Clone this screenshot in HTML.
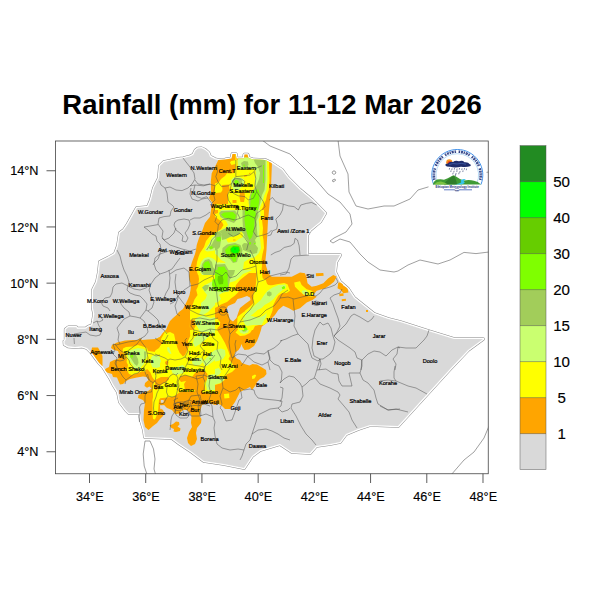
<!DOCTYPE html><html><head><meta charset="utf-8"><title>Rainfall</title>
<style>html,body{margin:0;padding:0;background:#fff}svg{display:block}text{font-family:"Liberation Sans",sans-serif}</style></head><body>
<svg width="600" height="600" viewBox="0 0 600 600">
<rect width="600" height="600" fill="#fff"/>
<defs><clipPath id="eth"><path d="M164 162 L170 160.8 L176.7 159.2 L183.3 158.3 L190 156.5 L193.3 155 L195.5 150.5 L198 148.5 L201.5 148.3 L205 150 L208.3 152.8 L210 156.7 L215 159.2 L218.3 160 L225 159.5 L231.5 158.5 L232.5 154 L235.8 154 L236.5 158.5 L243.8 158.5 L244.5 154.5 L247.5 154.5 L248.5 158 L253 159.5 L265 160 L270.5 162.5 L282 170 L288 178 L300 190 L312 200 L325 213.3 L320 221.7 L310 230 L307 235 L306.8 255 L340 255 L336 262 L335 272 L340 282 L348 289 L354 298 L364 306 L374 314 L388 319 L400 322 L428 331 L454 339 L483 339 L468 350 L450 369 L398 426 L370 425 L358 429 L346 434 L340 442 L330 444 L316 446 L310 453 L292 452 L280 444 L260 450 L252 456 L244 468 L224 464 L204 461 L192 452 L180 444 L172 438 L145 437 L144 430 L141 420 L140 413 L129 413 L126 410 L120 402 L118 392 L113 384 L110 378 L105.7 371 L103 366.7 L99 362.7 L95 357.3 L91 352 L87 348 L81.7 346.3 L75 347 L68.3 346.3 L64.7 344.3 L64.5 341.3 L65.7 340 L65.7 329.5 L68.3 327.3 L76.3 327.3 L77 328.7 L85.7 328.7 L88.3 326.7 L92.3 325.3 L93 322 L94.3 314 L93 308 L93 290 L97 282 L99 272 L100 262 L108 258 L115 254 L118 246 L120 233 L124 230 L128 224 L137 208 L148 207 L151 200 L154 188 L159 178 L160 166Z"/></clipPath><clipPath id="frame"><rect x="55.5" y="141" width="432.75" height="332.75"/></clipPath></defs>
<text x="272" y="113.5" text-anchor="middle" font-size="27.45" font-weight="bold" fill="#000">Rainfall (mm) for 11-12 Mar 2026</text>
<g clip-path="url(#frame)">
<g fill="none" stroke="#777" stroke-width="0.7">
<path d="M262 140 L270 146 L280 150 L290 154 L306 170 L316 180 L328 194 L340 202 L350 214 L352 224 L346 232 L334 238 L330 241 L333 243 L340 239 L350 242 L360 254 L368 262 L380 270 L394 272 L398 271 L408 265 L420 260 L438 264 L450 260 L464 252.4 L476 253.6 L489 252"/>
<path d="M338 140 L340 156 L348 174 L349 192 L356 206 L368 209 L384 206 L394 206 L410 199 L418 190 L428 187 L440 183 L460 176 L489 172"/>
<path d="M489 426 L484 438 L474 452 L464 460 L451 475"/>
<path d="M333 171 L335 171 L336 173 L334 174.5 L332 173Z"/>
<path d="M332.5 180 L335 179 L335.5 180.5 L333 182Z"/>
<path d="M145 441 L150 441 L153.5 449 L155 459 L154 469 L156 476 L147.5 476 L144.2 466 L143.2 454Z"/>
</g>
<path d="M164 162 L170 160.8 L176.7 159.2 L183.3 158.3 L190 156.5 L193.3 155 L195.5 150.5 L198 148.5 L201.5 148.3 L205 150 L208.3 152.8 L210 156.7 L215 159.2 L218.3 160 L225 159.5 L231.5 158.5 L232.5 154 L235.8 154 L236.5 158.5 L243.8 158.5 L244.5 154.5 L247.5 154.5 L248.5 158 L253 159.5 L265 160 L270.5 162.5 L282 170 L288 178 L300 190 L312 200 L325 213.3 L320 221.7 L310 230 L307 235 L306.8 255 L340 255 L336 262 L335 272 L340 282 L348 289 L354 298 L364 306 L374 314 L388 319 L400 322 L428 331 L454 339 L483 339 L468 350 L450 369 L398 426 L370 425 L358 429 L346 434 L340 442 L330 444 L316 446 L310 453 L292 452 L280 444 L260 450 L252 456 L244 468 L224 464 L204 461 L192 452 L180 444 L172 438 L145 437 L144 430 L141 420 L140 413 L129 413 L126 410 L120 402 L118 392 L113 384 L110 378 L105.7 371 L103 366.7 L99 362.7 L95 357.3 L91 352 L87 348 L81.7 346.3 L75 347 L68.3 346.3 L64.7 344.3 L64.5 341.3 L65.7 340 L65.7 329.5 L68.3 327.3 L76.3 327.3 L77 328.7 L85.7 328.7 L88.3 326.7 L92.3 325.3 L93 322 L94.3 314 L93 308 L93 290 L97 282 L99 272 L100 262 L108 258 L115 254 L118 246 L120 233 L124 230 L128 224 L137 208 L148 207 L151 200 L154 188 L159 178 L160 166Z" fill="none" stroke="#8a8a8a" stroke-width="3.7" stroke-linejoin="round"/>
<path d="M164 162 L170 160.8 L176.7 159.2 L183.3 158.3 L190 156.5 L193.3 155 L195.5 150.5 L198 148.5 L201.5 148.3 L205 150 L208.3 152.8 L210 156.7 L215 159.2 L218.3 160 L225 159.5 L231.5 158.5 L232.5 154 L235.8 154 L236.5 158.5 L243.8 158.5 L244.5 154.5 L247.5 154.5 L248.5 158 L253 159.5 L265 160 L270.5 162.5 L282 170 L288 178 L300 190 L312 200 L325 213.3 L320 221.7 L310 230 L307 235 L306.8 255 L340 255 L336 262 L335 272 L340 282 L348 289 L354 298 L364 306 L374 314 L388 319 L400 322 L428 331 L454 339 L483 339 L468 350 L450 369 L398 426 L370 425 L358 429 L346 434 L340 442 L330 444 L316 446 L310 453 L292 452 L280 444 L260 450 L252 456 L244 468 L224 464 L204 461 L192 452 L180 444 L172 438 L145 437 L144 430 L141 420 L140 413 L129 413 L126 410 L120 402 L118 392 L113 384 L110 378 L105.7 371 L103 366.7 L99 362.7 L95 357.3 L91 352 L87 348 L81.7 346.3 L75 347 L68.3 346.3 L64.7 344.3 L64.5 341.3 L65.7 340 L65.7 329.5 L68.3 327.3 L76.3 327.3 L77 328.7 L85.7 328.7 L88.3 326.7 L92.3 325.3 L93 322 L94.3 314 L93 308 L93 290 L97 282 L99 272 L100 262 L108 258 L115 254 L118 246 L120 233 L124 230 L128 224 L137 208 L148 207 L151 200 L154 188 L159 178 L160 166Z" fill="none" stroke="#fff" stroke-width="2.7" stroke-linejoin="round"/>
<path d="M164 162 L170 160.8 L176.7 159.2 L183.3 158.3 L190 156.5 L193.3 155 L195.5 150.5 L198 148.5 L201.5 148.3 L205 150 L208.3 152.8 L210 156.7 L215 159.2 L218.3 160 L225 159.5 L231.5 158.5 L232.5 154 L235.8 154 L236.5 158.5 L243.8 158.5 L244.5 154.5 L247.5 154.5 L248.5 158 L253 159.5 L265 160 L270.5 162.5 L282 170 L288 178 L300 190 L312 200 L325 213.3 L320 221.7 L310 230 L307 235 L306.8 255 L340 255 L336 262 L335 272 L340 282 L348 289 L354 298 L364 306 L374 314 L388 319 L400 322 L428 331 L454 339 L483 339 L468 350 L450 369 L398 426 L370 425 L358 429 L346 434 L340 442 L330 444 L316 446 L310 453 L292 452 L280 444 L260 450 L252 456 L244 468 L224 464 L204 461 L192 452 L180 444 L172 438 L145 437 L144 430 L141 420 L140 413 L129 413 L126 410 L120 402 L118 392 L113 384 L110 378 L105.7 371 L103 366.7 L99 362.7 L95 357.3 L91 352 L87 348 L81.7 346.3 L75 347 L68.3 346.3 L64.7 344.3 L64.5 341.3 L65.7 340 L65.7 329.5 L68.3 327.3 L76.3 327.3 L77 328.7 L85.7 328.7 L88.3 326.7 L92.3 325.3 L93 322 L94.3 314 L93 308 L93 290 L97 282 L99 272 L100 262 L108 258 L115 254 L118 246 L120 233 L124 230 L128 224 L137 208 L148 207 L151 200 L154 188 L159 178 L160 166Z" fill="#d9d9d9" stroke="none"/>
<g clip-path="url(#eth)">
<clipPath id="orc"><path d="M218 150 L218.3 160 L215 166.7 L211.7 173.3 L210.8 181.7 L211 193 L209 198 L212.5 203 L211 210 L210 216.7 L205 223 L202.5 230 L199 238 L196.7 245 L196 250 L195 254 L192 262 L189.5 270 L189 276 L189.5 280 L191 285 L190.5 290 L189.5 295 L188 299 L186 303 L183 309 L179 312 L176.5 315 L173 318 L170 321 L168 325 L166 330 L163 333 L160 337 L156 339 L148 339.5 L142 340 L140 338 L138 340 L133 340 L125 340.5 L117 342.5 L112 345 L111 348 L114 350 L118 351 L119 354 L120 356 L118 359 L114 360 L110 362 L109 367 L106 368.5 L104.5 370 L107 372.5 L112 374 L113 377 L117 377.5 L118 380 L120 384.5 L123 384 L126 381 L130 379 L137 377.5 L143 376.5 L146.5 377 L148.5 380 L145 383 L144.5 386 L147 387.8 L149.5 386.5 L151.5 388.5 L148 391 L143 393 L138.5 395 L138 398 L143 400 L145 403 L144 410 L143.5 420 L145 427 L148.5 430 L153 426 L157 423 L160 419 L163 416 L164.5 413 L163 410 L160 408 L161 406 L164 405 L167 408 L172 410 L175 414 L176 414 L179 413.5 L183 410 L187 410 L190 413 L191.5 416 L191 423 L192 427 L189 432 L187 438 L188 443 L191 446 L195 444 L197 439 L196 433 L197 428 L201 423 L201.5 419 L199.5 416 L200.5 410 L202 405 L209 403 L215 405 L218 404 L221 405 L225 409 L230 409 L235 402 L237 398 L240 392 L244 390 L250 387 L252 390 L255 386 L257 382 L260 379 L264 377 L266.5 374 L266 370 L262 367.5 L257 364.5 L252.5 364 L249.5 365.5 L246 364.5 L242 363 L240 360 L236.5 358.5 L234.5 356 L235 352.5 L238.5 350 L240.5 347 L241.5 344 L242.5 347 L244.5 350 L249 349.5 L254 346 L257 341 L259 336 L261 330 L261.7 326.7 L268.3 321.7 L275 315 L278.3 310 L283.3 305.8 L289 308.3 L293.3 310.8 L300 308.3 L306.7 302.5 L312.5 300 L316.7 296.7 L313.3 295 L316.7 290.8 L325 288.3 L330 285 L334 281.7 L336.7 276.7 L333.3 275 L328.3 278.3 L323.3 283.3 L316.7 285.8 L311.7 286.7 L307.5 283.3 L306.7 278.3 L305 273.3 L300 272.5 L291.7 276.7 L283.3 276.7 L271.7 276.7 L268.3 273.3 L265.8 265 L265.5 260 L266.5 250 L267 240 L267.5 230 L268 220 L269 210 L270 200 L271 190 L271.3 180 L272 162 L266 159 L250 150Z"/><path d="M92 347.5 L98 347.5 L100 351 L102.5 356 L102.5 366 L97.5 366 L96.7 361 L94 356 L91 352.5Z"/><path d="M169.5 425.5 L173 424 L176 421.5 L179 422 L179.5 424.5 L177.5 426.5 L180.5 428.5 L180 431 L176 432 L173.5 431.5 L174 429 L171.5 428Z"/><path d="M315.83 273.33 L323.33 273 L323.67 275.83 L316.17 276.17Z"/><path d="M338.33 282.5 L342.5 282.5 L343.33 285.83 L347.5 287.5 L348.33 292.5 L343.33 293.33 L340.83 290 L337.5 288.33Z"/><path d="M339.17 293.67 L343.33 293.33 L343.67 295.83 L339.5 296.17Z"/><path d="M341.67 299.17 L345.83 298.83 L346 300.83 L341.83 301.17Z"/><path d="M366 310 L368 310 L368 312 L366 312Z"/></clipPath>
<path d="M218 150 L218.3 160 L215 166.7 L211.7 173.3 L210.8 181.7 L211 193 L209 198 L212.5 203 L211 210 L210 216.7 L205 223 L202.5 230 L199 238 L196.7 245 L196 250 L195 254 L192 262 L189.5 270 L189 276 L189.5 280 L191 285 L190.5 290 L189.5 295 L188 299 L186 303 L183 309 L179 312 L176.5 315 L173 318 L170 321 L168 325 L166 330 L163 333 L160 337 L156 339 L148 339.5 L142 340 L140 338 L138 340 L133 340 L125 340.5 L117 342.5 L112 345 L111 348 L114 350 L118 351 L119 354 L120 356 L118 359 L114 360 L110 362 L109 367 L106 368.5 L104.5 370 L107 372.5 L112 374 L113 377 L117 377.5 L118 380 L120 384.5 L123 384 L126 381 L130 379 L137 377.5 L143 376.5 L146.5 377 L148.5 380 L145 383 L144.5 386 L147 387.8 L149.5 386.5 L151.5 388.5 L148 391 L143 393 L138.5 395 L138 398 L143 400 L145 403 L144 410 L143.5 420 L145 427 L148.5 430 L153 426 L157 423 L160 419 L163 416 L164.5 413 L163 410 L160 408 L161 406 L164 405 L167 408 L172 410 L175 414 L176 414 L179 413.5 L183 410 L187 410 L190 413 L191.5 416 L191 423 L192 427 L189 432 L187 438 L188 443 L191 446 L195 444 L197 439 L196 433 L197 428 L201 423 L201.5 419 L199.5 416 L200.5 410 L202 405 L209 403 L215 405 L218 404 L221 405 L225 409 L230 409 L235 402 L237 398 L240 392 L244 390 L250 387 L252 390 L255 386 L257 382 L260 379 L264 377 L266.5 374 L266 370 L262 367.5 L257 364.5 L252.5 364 L249.5 365.5 L246 364.5 L242 363 L240 360 L236.5 358.5 L234.5 356 L235 352.5 L238.5 350 L240.5 347 L241.5 344 L242.5 347 L244.5 350 L249 349.5 L254 346 L257 341 L259 336 L261 330 L261.7 326.7 L268.3 321.7 L275 315 L278.3 310 L283.3 305.8 L289 308.3 L293.3 310.8 L300 308.3 L306.7 302.5 L312.5 300 L316.7 296.7 L313.3 295 L316.7 290.8 L325 288.3 L330 285 L334 281.7 L336.7 276.7 L333.3 275 L328.3 278.3 L323.3 283.3 L316.7 285.8 L311.7 286.7 L307.5 283.3 L306.7 278.3 L305 273.3 L300 272.5 L291.7 276.7 L283.3 276.7 L271.7 276.7 L268.3 273.3 L265.8 265 L265.5 260 L266.5 250 L267 240 L267.5 230 L268 220 L269 210 L270 200 L271 190 L271.3 180 L272 162 L266 159 L250 150Z" fill="#ffa500"/>
<path d="M92 347.5 L98 347.5 L100 351 L102.5 356 L102.5 366 L97.5 366 L96.7 361 L94 356 L91 352.5Z" fill="#ffa500"/>
<path d="M169.5 425.5 L173 424 L176 421.5 L179 422 L179.5 424.5 L177.5 426.5 L180.5 428.5 L180 431 L176 432 L173.5 431.5 L174 429 L171.5 428Z" fill="#ffa500"/>
<path d="M315.83 273.33 L323.33 273 L323.67 275.83 L316.17 276.17Z" fill="#ffa500"/>
<path d="M338.33 282.5 L342.5 282.5 L343.33 285.83 L347.5 287.5 L348.33 292.5 L343.33 293.33 L340.83 290 L337.5 288.33Z" fill="#ffa500"/>
<path d="M339.17 293.67 L343.33 293.33 L343.67 295.83 L339.5 296.17Z" fill="#ffa500"/>
<path d="M341.67 299.17 L345.83 298.83 L346 300.83 L341.83 301.17Z" fill="#ffa500"/>
<path d="M366 310 L368 310 L368 312 L366 312Z" fill="#ffa500"/>
<g clip-path="url(#orc)">
<path d="M235.5 150 L236.3 156 L236.5 159.5 L237.5 160 L238 169 L255 169 L256 173 L255 179 L254.5 190 L251 192 L249.5 197 L248.5 202 L250 210 L215 210 L215 183.5 L219 182 L221 179 L225 176 L227 173.2 L231 173.6 L235 172.5 L235.5 164 L231.5 165 L230 162.7 L231 161 L235.5 160.2Z" fill="#ffff00"/>
<path d="M262 156 L267 160.8 L269 161.8 L269.5 180 L268.8 190 L267 195 L266 200 L264 204 L261.8 210 L258 210 L259 160Z" fill="#ffff00"/>
<path d="M218 210 L264 210 L264 216 L262 220 L263 228 L262.5 235 L263.5 240 L264 248 L262.5 254 L261.5 260 L262 266 L261.5 270 L215 270 L215 233 L217 232 L221 229 L223.5 225 L222 222 L218 219 L215 216 L215 214 L218 213Z" fill="#ffff00"/>
<path d="M215 270 L257 270 L256 273 L249 273 L245 276 L240 280 L236 285 L234.5 290 L239 291.5 L235 295.5 L231 298.5 L227 302 L221 304.5 L217 307 L215 308Z" fill="#ffff00"/>
<path d="M257 270 L262 270 L262 274 L263 280 L268 285 L275 286 L275 301 L272.5 303 L272 310 L271 314 L267 320 L263 324 L255 326 L253 330 L238 330 L237 326 L237.5 317 L241 314 L248 309 L254 303 L253 299 L255 291 L256 283Z" fill="#ffff00"/>
<path d="M215 322 L219 322 L219.5 326 L215 326.5Z" fill="#ffff00"/>
<path d="M197.5 270 L215 270 L215 330 L190.5 330 L189.5 326 L190 320 L190 310 L193 303.5 L194.5 299.5 L197.5 295 L196.2 290 L198.2 286 L199 279Z" fill="#ffff00"/>
<path d="M155 330 L215 330 L215 390 L155 390Z" fill="#ffff00"/>
<path d="M215 330 L217 330 L221 336 L225 343 L228 350 L230 356 L228.5 359 L232 363 L235.5 368.5 L232 372 L226.5 374.5 L224.5 380 L220.5 383.5 L215 385Z" fill="#ffff00"/>
<path d="M235.5 332.5 L237.5 330 L252 330 L250 333 L245 335.5 L240 336Z" fill="#ffff00"/>
<path d="M252 376 L255 374.5 L256.2 375.5 L254.5 378.5 L252.2 379Z" fill="#ffff00"/>
<path d="M224 394 L229 393.6 L229.4 398 L224.4 398.4Z" fill="#ffff00"/>
<path d="M155 390 L195 390 L194 391.5 L180 392 L176 395 L173 397 L167 396 L161 397 L159 400 L157.5 405 L156 410 L155 417Z" fill="#ffff00"/>
<path d="M202 390 L215 390 L215 393 L209 393.5 L203 393Z" fill="#ffff00"/>
<path d="M123 348.5 L126 347 L133 346.5 L138 345 L143 346.5 L147 348 L148 351 L152 351.5 L156 352 L158 349 L160 347 L160 383 L156 380 L152 378 L148 375 L146 372 L142 371 L138 373 L132 375 L129 374 L127 370 L128 365 L126.5 362 L127 359 L125 355 L122.5 351.5Z" fill="#ffff00"/>
<path d="M152.5 383 L155 381 L160 380 L165 378 L169 378 L168 381 L163 384 L160 388 L159 394 L161 396 L159 399 L157.5 404 L157 410 L156.5 416 L155 419.5 L153 419 L152.5 414 L153 408 L152.5 400 L153.5 395 L152.5 390Z" fill="#ffff00"/>
<path d="M294.17 282.5 L300 281.33 L301.67 285 L306.67 289.17 L311.67 290.83 L314.17 293.33 L312.5 296.67 L305 295.83 L300 291.67 L295 286.67Z" fill="#ffff00"/>
<path d="M220 230 L216 232 L210 236 L206 241 L204 247 L200 253 L198.5 257 L197 262 L196 269 L198 275 L220 275Z" fill="#ffff00"/>
<path d="M215 215 L220 215 L220 217.5 L216 218Z" fill="#ffff00"/>
<path d="M256.67 283.33 L262.5 278.33 L265.83 280 L267.08 284.17 L270 285.83 L276.67 284.17 L284.17 282.92 L287.5 284.17 L290 290.83 L286.67 292.92 L281.67 293.33 L278.33 295.83 L275.83 300 L273.33 305 L272.5 310.83 L270 316.67 L268.33 321.67 L267.5 325 L245 325 L245 310.83 L250 306.67 L253.33 303.33 L254.17 299.17 L253.33 294.17 L255 290Z" fill="#ffff00"/>
<path d="M147.5 365 L185 365 L185 375.42 L181.67 376.25 L178.33 375.83 L177.08 378.33 L178.33 381.67 L185 382.5 L185 390 L178.33 391.67 L175 392.5 L174.17 396.67 L160 398.33 L157.92 396.67 L157.5 389.17 L158.33 386.67 L161.67 384.17 L165.83 381.67 L169.17 379.17 L168.33 376.67 L164.17 377.5 L160 380 L156.67 381.67 L154.17 380 L152.08 376.67 L150.42 372.5 L147.5 369.17Z" fill="#ffff00"/>
<path d="M152.5 384.17 L155 381.67 L158.33 386.67 L157.5 389.17 L157.92 396.67 L158.75 402.5 L158.33 408.33 L157.5 415 L152.92 415 L152.5 406.67 L152.92 398.33 L153.17 390Z" fill="#ffff00"/>
<path d="M135 365 L147.5 365 L147.5 369.17 L145 370 L140 372.08 L135 374.17Z" fill="#ffff00"/>
<path d="M214.42 317.5 L217.34 318.67 L220.25 322.17 L219.67 325.67 L217.34 328 L217.92 333.84 L220.84 338.5 L224.34 343.17 L215 343.17 L214.42 330.33Z" fill="#ffff00"/>
<path d="M222 185 L229 184.5 L229.5 190 L228 192.5 L228 204 L221 204.5 L215 204 L215 193 L221 192.5 L222.5 190Z" fill="#ffa500"/>
<path d="M240 192.5 L244.5 192 L245 197 L244 202 L240.5 202 L239.5 197Z" fill="#ffa500"/>
<path d="M232.5 200 L236.5 200 L236.5 203 L232.5 203Z" fill="#ffa500"/>
<path d="M244 175.5 L247 175 L247.2 176.2 L244.2 176.7Z" fill="#ffa500"/>
<path d="M249 173 L250.5 172.8 L250.6 173.8 L249.1 174Z" fill="#ffa500"/>
<path d="M189 320 L195 319.5 L195.5 326 L193.5 330 L189.5 330Z" fill="#ffa500"/>
<path d="M155 336 L160 335 L161.5 333 L165 330 L166 330 L161 339 L162 343 L159 348 L156 350 L155 351Z" fill="#ffa500"/>
<path d="M165 330 L190 330 L190.2 336 L188 341 L189 346 L187 351 L185 355 L183 356.5 L179.5 352.5 L177.5 348 L175.5 341 L174 334 L170 332 L167 333Z" fill="#ffa500"/>
<path d="M165 362 L167 360.5 L168.5 362 L168 365 L165.5 364.5Z" fill="#ffa500"/>
<path d="M180 377 L185 375 L192 377 L195 373 L199 371 L205 371 L207.5 374 L207 380 L204 383 L205 390 L185 390 L184 384 L186 381 L181 382 L179 379Z" fill="#ffa500"/>
<path d="M155 380 L161 377 L167 377 L168.5 379 L165 382 L160 385 L157 390 L155 390Z" fill="#ffa500"/>
<path d="M145 370 L147.5 369.17 L150.42 372.5 L152.08 376.67 L154.17 380 L156.67 381.67 L160 380 L164.17 377.5 L168.33 376.67 L169.17 379.17 L165.83 381.67 L161.67 384.17 L158.33 386.67 L155 381.67 L152.5 384.17 L149.17 380 L146.67 375Z" fill="#ffa500"/>
<path d="M237.5 160 L239 157.5 L244 157.5 L245 157.2 L248 157.4 L253 156 L265 156 L267 161 L267.5 180 L266.5 190 L264 196 L263 200 L260.5 206 L259.2 210 L250 210 L248.5 202 L249.5 197 L251 192 L254.5 190 L255 179 L256 173 L255 169 L238 169Z" fill="#caff70"/>
<path d="M231 180 L233.5 177.5 L240 177.2 L244 179.5 L244 184 L241.5 187 L239 190 L234 190 L231.5 186Z" fill="#caff70"/>
<path d="M221 210 L260 210 L260.5 216 L258.7 220 L259.7 228 L259.2 235 L260.2 240 L261 248 L259 253 L255 257 L249 259 L244 262 L243 270 L228 270 L225 262 L221 260 L217 255 L215 254 L215 234 L219 231 L225 228 L228 225 L226 221 L221 218 L219 214Z" fill="#caff70"/>
<path d="M215 262.5 L227 263 L228.5 270 L215 270Z" fill="#caff70"/>
<path d="M215 270 L252 270 L248 272 L243 274 L239 278 L235 281 L230 282.5 L228 286 L228.5 291.5 L223 292.5 L219 295 L221 299 L218 302 L215 303Z" fill="#caff70"/>
<path d="M243 318 L249 315 L255 317 L260 318 L259 322 L253 325 L247 326 L244 323Z" fill="#caff70"/>
<path d="M200.5 270 L215 270 L215 272 L211 272.5 L205 271.5Z" fill="#caff70"/>
<path d="M215 281 L212 281.5 L205 285 L202 287.5 L204 291 L207 295 L205.5 299 L201 303 L201 310 L199 314 L203 315 L208 312 L212 308 L215 305Z" fill="#caff70"/>
<path d="M195 319.5 L198 317 L203 315.5 L207 317 L211 318 L215 317 L215 330 L199 330 L197 326 L194.5 323Z" fill="#caff70"/>
<path d="M194 338 L198 335 L205 333 L209 336 L205 340 L200 344 L195 347 L193 343Z" fill="#caff70"/>
<path d="M198 330 L215 330 L215 333 L207 332.5 L201 332Z" fill="#caff70"/>
<path d="M155 356 L159 357 L161 361 L159 366 L155 368Z" fill="#caff70"/>
<path d="M167 347.5 L169 347 L170 350 L171.5 353.5 L170 354 L167.5 351Z" fill="#caff70"/>
<path d="M173 368 L183 365 L185 368 L183 373 L177 375 L173.5 373Z" fill="#caff70"/>
<path d="M192 361 L197 358 L202 358 L203 362 L200 365 L195 365.5 L192.5 364Z" fill="#caff70"/>
<path d="M203 362 L207 357 L211 353 L215 350 L215 360 L211 363 L207 366 L204 365Z" fill="#caff70"/>
<path d="M208 375 L215 374 L215 390 L207 390 L206 384Z" fill="#caff70"/>
<path d="M239 330 L249 330 L248 332.5 L244 334 L240.5 333Z" fill="#caff70"/>
<path d="M215 350 L221 348.5 L225 350 L225.5 355 L223 359 L218 361 L215 361.5Z" fill="#caff70"/>
<path d="M215 369 L219 368 L221 372 L219 375 L215 376Z" fill="#caff70"/>
<path d="M215 377 L222 376.5 L224.5 379.5 L220.5 383 L215 384.5Z" fill="#caff70"/>
<path d="M128 352 L131 350 L138 348 L144 349 L146.5 352 L147 357 L144 359 L144 364 L141 367 L140 371 L135 369 L132 364 L129 360 L127.5 356Z" fill="#caff70"/>
<path d="M152 356 L156 355 L160 357 L160 367 L156 368 L152 366 L150 362Z" fill="#caff70"/>
<path d="M301.67 290.83 L305.83 290 L308.33 292.5 L306.67 295 L303 294.17Z" fill="#caff70"/>
<path d="M220 231.5 L216 234.5 L212 237.5 L209.5 243 L206.5 247 L204.5 250 L207 251.5 L212 251 L216 250 L220 249Z" fill="#caff70"/>
<path d="M199.5 267 L201 262 L204 258.5 L208 257 L212 258 L215 260 L217 263 L220 262 L220 275 L202 275 L200 272Z" fill="#caff70"/>
<path d="M285.42 284.58 L278.33 285 L272.5 287.5 L267.5 290.83 L264.17 295 L260.83 300 L255.83 304.17 L251.67 308.33 L247.5 311.67 L245 314.17 L245 319.17 L249.17 316.67 L253.33 313.75 L257.5 310 L261.67 307.92 L264.58 305 L269.17 302.5 L273.33 299.17 L277.5 294.17 L281.67 290.83 L286.25 287.5Z" fill="#caff70"/>
<path d="M266.67 312.92 L263.33 315.83 L257.5 317.92 L250 320.83 L245 322.92 L245 325 L261.67 325 L264.17 320 L266.25 316.67Z" fill="#caff70"/>
<path d="M151.67 365 L160 365 L159.17 367.08 L152.5 367.5Z" fill="#caff70"/>
<path d="M170.83 368.33 L174.17 367.5 L181.67 368.33 L181.25 372.5 L176.67 375 L172.5 373.33Z" fill="#caff70"/>
<path d="M226 239 L230 237 L238 235 L241 231.5 L242.5 232.5 L243 237 L239 239 L235 242 L228 242.5Z" fill="#ffff00"/>
<path d="M252.5 156 L265.5 156 L265.5 180 L264.5 190 L262 195 L260.5 202 L258.2 210 L249.5 210 L249 202 L250 195 L252 191 L255 188 L257 184 L259 179 L260 173 L258 167 L255 163Z" fill="#a2cd5a"/>
<path d="M241 163 L244 161 L248 161.5 L248.5 165 L246 167 L242 166.5Z" fill="#a2cd5a"/>
<path d="M232.5 180.5 L234.5 178.5 L240 178.3 L242.2 180 L242 184 L239.5 186.8 L235 187 L232.8 184Z" fill="#a2cd5a"/>
<path d="M219 213 L221 211 L235 210.5 L237.5 214 L236.5 220 L234 223 L230 221.5 L225 219.5 L220.5 217Z" fill="#a2cd5a"/>
<path d="M242.5 210 L258 210 L258.5 216 L256.5 221 L257 230 L257.5 236 L255 240 L256 243 L254 245 L249 245 L247 240 L244 236 L243 228 L242.5 220Z" fill="#a2cd5a"/>
<path d="M215 233.5 L219 231.5 L222 234 L221 240 L220 247 L217 250 L215 250.5Z" fill="#a2cd5a"/>
<path d="M222.5 248 L227 244.5 L235 243 L240.5 245 L242.5 250 L241.5 255 L238 258 L237 262 L233 263 L230 259 L225 257 L222 253Z" fill="#a2cd5a"/>
<path d="M215 264.5 L225 264 L228.5 270 L215 270Z" fill="#a2cd5a"/>
<path d="M219 231.5 L225 228.5 L232 227 L244 227.5 L245 235 L241 231.5 L238 235 L230 237 L226 239 L222 240 L222 234Z" fill="#a2cd5a"/>
<path d="M244 243 L255 244 L258 248 L257 253 L253 254 L248 252 L243 250 L242 245Z" fill="#a2cd5a"/>
<path d="M215 270 L235 270 L234 274 L230 279 L229 285 L228.5 291.5 L223 292.2 L218 291.5 L215 291.5Z" fill="#a2cd5a"/>
<path d="M202 287.5 L205 285 L209 285 L208 289 L205 291.5Z" fill="#a2cd5a"/>
<path d="M241.5 330 L247 330 L246 331.5 L243 331.8Z" fill="#a2cd5a"/>
<path d="M130 354 L133 352.5 L136 355 L138 359 L138.5 363 L137 366 L134.5 364 L132 360 L130 357Z" fill="#a2cd5a"/>
<path d="M144 351.5 L146 351.5 L146.2 359 L144.2 359Z" fill="#a2cd5a"/>
<path d="M220 234.5 L217 236.5 L214 240 L212 244 L209 248 L211 249.5 L216 247 L220 245Z" fill="#a2cd5a"/>
<path d="M201 269 L202 264 L205 260 L209 259 L212 262 L213 267 L216 271 L220 269 L220 275 L204 275 L201.5 273Z" fill="#a2cd5a"/>
<path d="M266.83 292.5 L269.17 291.25 L271.5 292.5 L271.67 295 L269.58 296.5 L267.08 295.42Z" fill="#a2cd5a"/>
<path d="M243.5 164.5 L244.7 164.5 L244.7 167 L243.5 167Z" fill="#7fff00"/>
<path d="M234.5 180.5 L236.5 180 L238.5 181 L238.5 184.5 L236.5 185.2 L234.5 184Z" fill="#7fff00"/>
<path d="M252.5 192 L255 190 L258.5 189.5 L259.5 193 L259 202 L258 210 L250 210 L250.5 202 L251 196Z" fill="#7fff00"/>
<path d="M263 165 L264 165 L264 183 L263 183Z" fill="#7fff00"/>
<path d="M221 214.5 L224 212.5 L233 212 L236 215 L235 219.5 L233.5 221 L229 219 L224 217.5Z" fill="#7fff00"/>
<path d="M245 210 L255 210 L256 215 L254.5 221 L254 230 L252 237 L249.5 240 L247.5 235 L245.5 228 L244.5 220Z" fill="#7fff00"/>
<path d="M216.5 237.2 L220.8 237.2 L220.8 241.2 L216.5 241.2Z" fill="#7fff00"/>
<path d="M225 250 L229 246 L236 244.5 L239.5 246.5 L240.5 251 L239 255 L236.5 257.5 L236 261.5 L233.5 262 L231 258 L226.5 255.5Z" fill="#7fff00"/>
<path d="M249 242 L251 242 L251 244.5 L249 244.5Z" fill="#7fff00"/>
<path d="M254 243 L255.5 243 L255.5 244.2 L254 244.2Z" fill="#7fff00"/>
<path d="M218 267 L224.5 266.5 L226 270 L217.5 270Z" fill="#7fff00"/>
<path d="M215 270 L227 270 L228 274 L227.5 280 L228 286 L226 291 L221 291.5 L215 291Z" fill="#7fff00"/>
<path d="M244 328 L247 327.5 L247.5 330 L244 330Z" fill="#7fff00"/>
<path d="M212.5 279.5 L215 279 L215 291 L213.5 290 L212 285Z" fill="#7fff00"/>
<path d="M209.5 358 L211 358 L211 359.5 L209.5 359.5Z" fill="#7fff00"/>
<path d="M243 330 L245 330 L245 331 L243 331Z" fill="#7fff00"/>
<path d="M130.5 355 L133 355 L133 357.5 L130.5 357.5Z" fill="#7fff00"/>
<path d="M220 236.5 L218 237.5 L216.5 239.5 L218.5 241.5 L220 241Z" fill="#7fff00"/>
<path d="M209 247 L212 246 L213 248 L210 249.5Z" fill="#7fff00"/>
<path d="M203 265 L205 262 L208.5 261 L210 264 L210.5 269 L208 271 L204.5 270Z" fill="#7fff00"/>
<path d="M216 272 L220 271 L220 275 L215 275Z" fill="#7fff00"/>
<path d="M281.67 287.5 L283.75 286 L285.17 286.67 L284.83 288.75 L282.5 289.33Z" fill="#7fff00"/>
<path d="M230 249 L233 246 L239 246.2 L240 250.5 L238 254 L233.5 254.2 L230.5 252Z" fill="#66cd00"/>
<path d="M218 276 L222.5 275.5 L223.5 280 L223 284 L219 284.5 L217.5 280Z" fill="#66cd00"/>
<path d="M231 248.5 L233.5 246.8 L238.5 247.2 L239.3 250.5 L237.5 253 L233.5 253.2 L231.2 251.5Z" fill="#00ff00"/>
<path d="M234.5 248.5 L235.5 248.5 L235.5 249.5 L234.5 249.5Z" fill="#228b22"/>
<path d="M233 239.6 L235.5 239.4 L235.6 240.4 L233.1 240.6Z" fill="#ffa500"/>
<path d="M228 306 L235 303 L237.5 299 L241.5 298 L247 296 L250 297.5 L250.5 300 L245 304 L240 308 L238.5 312 L236.5 318 L233 321.5 L229.5 319 L228.5 314 L226 310Z" fill="#d9d9d9"/>
<path d="M155 330 L165 330 L161.5 333 L160 335 L155 336Z" fill="#d9d9d9"/>
<path d="M160 405.5 L163.5 405.5 L163.5 408.5 L160 408.5Z" fill="#d9d9d9"/>
<path d="M161 400 L163.5 400 L163.5 402.5 L161 402.5Z" fill="#d9d9d9"/>
<path d="M160.83 400 L163.33 400 L163.33 402.5 L160.83 402.5Z" fill="#d9d9d9"/>
<path d="M160 405.42 L164.17 405 L164.58 408.75 L160.42 409.17Z" fill="#d9d9d9"/>
</g></g>
<g fill="none" stroke="#4d4d4d" stroke-width="0.5" stroke-linejoin="round">
<path d="M159.6 181 L161 185 L165 188 L170 187 L176 190 L182 190.6 L188 188 L192 184 L195 179 L194 173 L190 167 L186 162 L183 158"/>
<path d="M195 180 L198 184 L204 185 L210 184"/>
<path d="M165 188 L167 193 L168 202 L172 205 L174 207 L171 211 L170 216 L164 216.6 L159 218 L158 224 L160 227 L163 231 L162 237 L164 240 L169 238 L174 233 L176 228"/>
<path d="M144 227 L150 226 L158 224.6"/>
<path d="M144 227 L148 230 L152 234 L156 236 L157 241 L160 244 L161 249 L160 254 L158 259 L154 263 L153 265"/>
<path d="M162 238 L165 241 L170 245 L176 247 L182 249 L190 251 L196 249"/>
<path d="M175 222 L178 220 L184 219 L189 220 L190 224 L188 229 L185 233 L188 238 L186 242 L182 241 L183 236 L180 233 L176 230 L174 225 L175 222"/>
<path d="M191 188 L190 194 L192 199 L198 201 L202 199 L208 198"/>
<path d="M190 220 L194 218 L200 218 L206 215 L210 212"/>
<path d="M117 250 L120 256 L122 264 L124 270 L127 276 L129 282 L128 286"/>
<path d="M128 286 L134 289 L140 290 L146 288 L151 284 L155 278 L160 274 L166 272 L172 269 L177 262 L180 258"/>
<path d="M160 274 L156 270 L154 264 L155 258 L160 254 L166 252 L172 250"/>
<path d="M128 286 L122 283 L116 284 L113 287 L112 293 L110 297 L105 298 L101 302 L103 306 L108 308 L110 311"/>
<path d="M128 286 L127 290 L130 293 L135 295 L140 296 L144 300 L147 304 L146 310 L143 314 L140 318 L136 317 L130 316 L129 312 L124 308 L121 304 L120 299"/>
<path d="M151 284 L149 290 L151 296 L154 302 L152 308 L148 311 L146 310"/>
<path d="M130 316 L124 319 L120 324 L117 328 L119 334 L118 340 L120 344"/>
<path d="M140 318 L144 321 L147 327 L148 332 L145 336 L140 339 L135 341 L128 342 L120 344 L116 345 L113 344"/>
<path d="M148 311 L154 316 L158 320 L160 327 L164 330 L167 334"/>
<path d="M169 270 L170 278 L169 288 L166 293 L164 298"/>
<path d="M176 274 L175 282 L176 290 L178 298 L175 306 L177 314 L180 316"/>
<path d="M93 323 L97 321 L99 326 L102 330 L100 335 L96 336 L90 335 L86 332 L80 333 L74 334"/>
<path d="M74 338 L74.4 344"/>
<path d="M100 316 L103 320 L99 322 L97 321"/>
<path d="M113 344 L115 350 L113 354 L117 358 L116 364 L118 370"/>
<path d="M269.17 200 L272.5 197.5 L275.83 201.67 L280 203.33 L283.33 204.17 L288.33 205.83 L294.17 206.67 L298.33 210 L300.83 205 L306.67 203.33 L311.67 202.5 L316.67 205"/>
<path d="M283.33 204.17 L282.5 210 L280 215 L275.83 219.17 L277.5 225 L276.67 229.17 L272.5 230.83 L270.83 235 L267.5 235.83"/>
<path d="M270.83 255 L275 252.5 L280 250.83 L284.17 247.5 L290.83 245.83 L294.17 243.33 L295 238.33 L297.5 240 L299.17 245.83 L300 255"/>
<path d="M280 275 L286 274 L289 268 L291 259 L294 256 L309 255"/>
<path d="M280 298 L288 297 L294 299 L302 297 L310 295 L316 296 L320 293 L323 289 L330 287 L335 285 L338 282 L336 278"/>
<path d="M313 302.4 L316 301 L319.6 302 L320 304.4 L317 305.6 L313.6 304.8 L313 302.4"/>
<path d="M293 299 L294 308 L295 316 L294 326 L298 334 L302 338 L308 344 L310 352 L312 358 L318 361 L320 359"/>
<path d="M330 298 L333 304 L335 310 L338 318 L340 326 L337 332 L334 336"/>
<path d="M330 298 L334 295 L340 293 L342 289"/>
<path d="M320 322 L323 325 L328 323 L331 328 L333 336 L335 342 L333 350 L330 354 L323 359 L320 359 L314 356 L312 348 L313 338 L315 330 L318 325 L320 322"/>
<path d="M334 336 L340 330 L346 324 L351 316 L354 314 L360 317 L368 322 L372 319 L374 316"/>
<path d="M334 336 L338 340 L344 344 L350 348 L355 352 L357 358 L362 360 L368 354 L374 351 L380 352 L386 356 L392 350 L398 347 L400 348"/>
<path d="M320 359 L321 364 L319 370"/>
<path d="M280 341 L286 339 L292 336 L298 334"/>
<path d="M362 360 L361 370"/>
<path d="M320 359 L318 366 L315 376 L314 378"/>
<path d="M361.6 360 L362 366 L360 373"/>
<path d="M317 370 L326 369 L332 373 L338 374 L339 381 L342 386 L352 386 L349 373 L360 373"/>
<path d="M360 373 L363 380 L368 383 L374 390 L376 398 L378 404 L388 410 L400 409"/>
<path d="M315 378 L320 384 L330 388 L338 392 L340 395 L338 399 L344 406 L349 412 L352 420 L357 428"/>
<path d="M315 378 L310 380 L306 384 L302 387 L303 396 L300 402 L292 404 L291 408 L296 416 L301 426 L306 434 L312 440 L316 445"/>
<path d="M280 383 L284 379 L289 376 L294 377 L300 383 L302 387"/>
<path d="M280 387 L283 388 L282 398 L280 402"/>
<path d="M429 330 L427 336 L424 340 L420 344 L416 348 L406 348 L398 347"/>
<path d="M398 347 L397 354 L393 359 L396 364 L395 370"/>
<path d="M395 366 L394 372 L394 378 L396 381"/>
<path d="M380 381 L388 380 L396 381 L408 386 L416 388 L427 394"/>
<path d="M380 406 L388 410 L396 409 L408 412"/>
<path d="M241 366 L244 362 L248 356 L256 353 L264 354 L268 351 L274 348 L279 344 L282 340"/>
<path d="M268 352 L270 360 L274 364 L279 366 L282 372 L281.4 380 L280 383"/>
<path d="M239 387 L244 390 L250 389 L254 390 L255 394 L258 398 L264 399 L274 400 L282 401 L281 406 L278 408"/>
<path d="M278 408 L270 409 L264 412 L258 415 L256 422 L254 428 L252 434 L250 440 L246 444 L244 450 L242 456 L240 460"/>
<path d="M278 408 L282 412 L288 410 L290 408"/>
<path d="M239 387 L241 392 L242 398 L239 400 L237 406 L235 412 L232 420 L226 421 L224 416 L222 410 L220 408"/>
<path d="M200 416 L206 414 L213 417 L215 422 L214 428 L215 436 L217 444 L222 448 L230 450 L238 449 L244 450"/>
<path d="M252 434 L258 430 L266 429 L272 431 L278 434 L284 438 L290 440"/>
<path d="M216.67 165 L217.5 171.67 L215.83 176.67 L218.33 182.5 L215 185.83 L210 184.17 L203.33 185.83 L195 185 L190 185.83"/>
<path d="M235.83 160 L235.83 176.67 L235 177.5 L231.67 183.33 L230 190"/>
<path d="M218.33 182.5 L221.67 186.67 L228.33 185.83 L231.67 183.33"/>
<path d="M232.5 180.83 L235.83 178.33 L241.67 179.17 L245 181.67 L243.33 185 L238.33 185.83 L233.67 184.17 L232.5 180.83"/>
<path d="M235.83 176.67 L243.33 175.83 L250 175 L254.17 171.67 L255.83 168.33 L261.67 165.83"/>
<path d="M254.17 171.67 L255.83 178.33 L255 185.83 L256.67 191.67"/>
<path d="M230 190 L233.33 193.33 L238.33 195.83 L245 196.67 L248.33 200 L253.33 198.33 L256.67 191.67"/>
<path d="M256.67 191.67 L260 196.67 L263.33 201.67 L265 206.67 L261.67 210 L256.67 213.33 L255 218.33"/>
<path d="M215 185.83 L213.33 193.33 L215 200 L211.67 203.33 L215 207.5 L213.33 213.33 L216.67 216.67 L215 221.67 L218.33 225"/>
<path d="M230 190 L227.5 195 L228.33 200 L231.67 205 L238.33 206.67 L237.5 213.33 L240 218.33 L243.33 216.67 L248.33 215 L255 218.33"/>
<path d="M218.33 225 L221.67 220 L228.33 218.33 L235 220 L240 218.33"/>
<path d="M218.33 225 L217.5 231.67 L215 236.67 L211.67 240 L210 245 L206.67 250"/>
<path d="M255 218.33 L255.83 225 L253.33 231.67 L256.67 236.67 L263.33 235 L268.33 233.33 L271.67 230"/>
<path d="M228.33 233.33 L233.33 236.67 L240 233.33 L245 238.33 L248.33 243.33 L246.67 250"/>
<path d="M195 185 L193.33 191.67 L196.67 196.67 L201.67 198.33 L206.67 196.67 L211.67 203.33"/>
<path d="M217 250 L217 260 L215 270 L213 276 L204 280 L198 284 L190 286 L184 290 L178 296 L174 302 L170 304"/>
<path d="M170 274 L176 270 L184 268 L189 272 L190 286"/>
<path d="M250 250 L254 258 L256 266 L257 276 L258 282"/>
<path d="M215 272 L222 276 L226 272 L230 278 L236 276 L242 270 L250 268 L256 266"/>
<path d="M258 282 L264 280 L270 276 L278 274 L286 272 L290 273"/>
<path d="M258 282 L256 290 L252 296 L254 304 L250 310 L244 316 L240 322"/>
<path d="M213 276 L216 286 L217 296 L218 304 L219 307"/>
<path d="M227.4 311 L226.6 313.4 L224.4 315 L221.6 315 L219.4 313.4 L218.6 311 L219.4 308.6 L221.6 307 L224.4 307 L226.6 308.6 L227.4 311"/>
<path d="M227 314 L230 320 L228 326 L230 334 L229 342 L230 350 L232 358"/>
<path d="M240 322 L236 328 L230 334"/>
<path d="M178 296 L184 304 L190 310 L198 314 L206 316 L214 314 L219 312"/>
<path d="M192 319 L200 318 L210 320 L218 318"/>
<path d="M192 319 L191 326 L194 330 L193 338 L188 344"/>
<path d="M240 322 L250 320 L260 316 L266 310 L274 306 L279 300 L282 294 L288 290"/>
<path d="M232 358 L238 354 L246 355 L254 362 L262 365 L268 362 L270 358 L268 350"/>
<path d="M268 362 L270 370"/>
<path d="M194 330 L202 332 L210 329 L218 330 L228 326"/>
<path d="M202 332 L204 340 L200 346 L205 352 L202 358 L206 364 L204 370"/>
<path d="M210 329 L213 338 L218 342 L217 350 L221 358 L220 366 L222 370"/>
<path d="M155 338 L159 341 L162 343 L166 339 L168 335"/>
<path d="M155 354 L160 356 L165 358 L168 360 L170 359 L175 360 L181 359 L185 357 L188 351 L186 346 L185 340 L187 338"/>
<path d="M168 360 L167 364 L168 368 L165 372 L161 373 L155 374"/>
<path d="M185 357 L189 360 L193 359 L197 356 L201 353 L205 350"/>
<path d="M189 360 L187 364 L185 368 L183 373 L180 377 L178 382 L179 386 L177 390"/>
<path d="M187 364 L193 365 L199 366 L204 367 L207 364 L211 360 L215 355"/>
<path d="M204 367 L205 372 L203 377 L205 382 L204 390"/>
<path d="M180 377 L185 375 L192 377 L197 379 L203 377"/>
<path d="M196 376 L198 384 L197 392 L200 400 L198 406 L200 416"/>
<path d="M196 376 L204 375 L210 378 L216 377 L222 380"/>
<path d="M210 378 L209 386 L211 394 L209 400 L212 406 L213 417"/>
<path d="M222 380 L223 388 L230 392 L236 390 L239 387"/>
<path d="M222 380 L226 374 L230 368 L232 360 L236 352 L235 344 L236 340"/>
<path d="M200 400 L194 402 L189 400 L184 402 L182 408 L176 406 L174 400 L178 398"/>
<path d="M190 402 L192 408 L190 412 L184 414 L182 408"/>
<path d="M198 406 L204 404 L210 406"/>
<path d="M223 388 L220 396 L222 404 L220 408"/>
<path d="M115 344 L118 348 L121 351 L125 353 L126 357 L124 360 L120 361 L116 360 L115 363 L117 368 L120 372 L123 377 L126 380 L125 384"/>
<path d="M125 353 L129 350 L133 347 L137 344 L140 340 L142 338"/>
<path d="M140 340 L143 344 L146 348 L147 353 L148 358 L147 363 L144 367 L145 372 L147 377 L149 380"/>
<path d="M126 357 L129 360 L130 364 L133 367 L136 370 L140 371 L144 367"/>
<path d="M126 380 L130 377 L134 374 L138 373 L140 371"/>
<path d="M147 353 L152 354 L156 356 L160 355"/>
<path d="M147.5 374 L148.5 378 L150 381 L153 382.5 L155 381 L156 376 L155 372 L156 370"/>
<path d="M153 382.5 L152.5 388 L151.5 392 L146 392.5 L145 396 L145 403 L141 404 L139.5 407 L140 413 L139 417 L139.5 422"/>
<path d="M155 381 L157 384 L160 385 L163 383 L166 382 L168 379 L170 376 L173 374 L176 375 L178 373"/>
<path d="M160 385 L159 389 L157 393 L156 397 L154 402 L153.5 408 L154 413"/>
<path d="M166 382 L167 387 L166.5 392 L168 396 L172 397 L176 396 L177 392 L178 387 L177 382 L178 378 L176 375"/>
<path d="M168 396 L166 399 L164 403 L161 404 L159 403"/>
<path d="M176 396 L175 400 L174 404 L174.5 408 L176 410 L174 413 L172 416 L171 420 L170.5 426 L170 430"/>
<path d="M174 404 L178 402 L182 404 L186 403 L189 405"/>
<path d="M174 404 L180 402 L183 407 L180 411 L175 410 L174 404"/>
<path d="M180 402 L188 402 L190 406 L187 410 L183 407"/>
<path d="M175 410 L176 415 L180 418 L187 418 L190 414 L187 410"/>
<path d="M190 406 L200 405 L201 416 L191 416 L190 414"/>
<path d="M188 402 L191 396 L200 395 L202 404 L200 405"/>
</g>
<g font-size="5.6" fill="#000" stroke="#000" stroke-width="0.22" text-anchor="middle">
<text x="176.6" y="177.4">Western</text>
<text x="150.6" y="213.6">W.Gondar</text>
<text x="183" y="211.6">Gondar</text>
<text x="139" y="256.5">Metekel</text>
<text x="162.4" y="251.5">Awi</text>
<text x="181" y="254.4">W.Gojam</text>
<text x="203.7" y="170">N.Western</text>
<text x="203.3" y="194.5">N.Gondar</text>
<text x="204.2" y="235.3">S.Gondar</text>
<text x="109.6" y="278.4">Assosa</text>
<text x="139.6" y="287.4">Kamashi</text>
<text x="97.4" y="303.2">M.Komo</text>
<text x="126" y="303.2">W.Wellega</text>
<text x="163" y="300.6">E.Wellega</text>
<text x="111" y="317.6">K.Wellega</text>
<text x="154.4" y="327.6">B.Bedele</text>
<text x="95.6" y="331">Itang</text>
<text x="131" y="333.6">Ilu</text>
<text x="73.6" y="337">Nuwer</text>
<text x="102" y="354">Agnewak</text>
<text x="169.2" y="343.9">Jimma</text>
<text x="131.8" y="354.5">Sheka</text>
<text x="147.5" y="362.8">Kefa</text>
<text x="121" y="358">Mj</text>
<text x="276.7" y="187.8">Kilbati</text>
<text x="267" y="219.7">Fanti</text>
<text x="293.3" y="232.7">Awsi /Zone 1</text>
<text x="310.2" y="278">Siti</text>
<text x="309.6" y="295.6">D.D</text>
<text x="319.3" y="305">Harari</text>
<text x="348.5" y="309.4">Fafan</text>
<text x="314.2" y="317">E.Hararge</text>
<text x="280" y="321.6">W.Hararge</text>
<text x="322" y="344.6">Erer</text>
<text x="379" y="338">Jarar</text>
<text x="293" y="362">E.Bale</text>
<text x="342.5" y="365">Nogob</text>
<text x="388" y="385">Korahe</text>
<text x="360.5" y="403">Shabelle</text>
<text x="325" y="416.5">Afder</text>
<text x="287" y="422.5">Liban</text>
<text x="430" y="362.6">Doolo</text>
<text x="261.5" y="387.4">Bale</text>
<text x="235.5" y="409.5">Guji</text>
<text x="209.5" y="441">Borena</text>
<text x="257.5" y="447.5">Daawa</text>
<text x="179.5" y="254.6">B.D</text>
<text x="227.2" y="173.2">Cent.T</text>
<text x="246.5" y="170.3">Eastern</text>
<text x="243.2" y="186.8">Mekelle</text>
<text x="241.8" y="192.8">S.Eastern</text>
<text x="224.7" y="207.8">WagHamra</text>
<text x="245.8" y="209.5">N.Tigray</text>
<text x="235.7" y="231.3">N.Wello</text>
<text x="235.7" y="256.8">South Wello</text>
<text x="258.3" y="264.2">Oromia</text>
<text x="265" y="273.5">Hari</text>
<text x="233" y="291">NSH(OR)NSH(AM)</text>
<text x="223.2" y="313">A.A</text>
<text x="234.3" y="328">E.Shewa</text>
<text x="200" y="270.6">E.Gojam</text>
<text x="179.3" y="293.6">Horo</text>
<text x="196.8" y="308.6">W.Shewa</text>
<text x="205.2" y="325.4">SW.Shewa</text>
<text x="204" y="336.2">Guraghe</text>
<text x="187" y="346.2">Yem</text>
<text x="208.4" y="346.4">Siltie</text>
<text x="195" y="354.7">Had.</text>
<text x="208" y="355.8">Hal.</text>
<text x="194.3" y="360.5">Kem.</text>
<text x="229.6" y="368">W.Arsi</text>
<text x="249.8" y="343.2">Arsi</text>
<text x="160" y="372.5">Konta</text>
<text x="175" y="369.8">Dawuro</text>
<text x="193.7" y="372">Wolayita</text>
<text x="170.5" y="386.8">Gofa</text>
<text x="217.5" y="379">Sidama</text>
<text x="186" y="392.4">Gamo</text>
<text x="209.5" y="394">Gedeo</text>
<text x="200" y="404.2">Amaro</text>
<text x="210.8" y="404.2">W.Guji</text>
<text x="177.6" y="409.4">Ale</text>
<text x="184.6" y="407.2">Der.</text>
<text x="184" y="416">Kon</text>
<text x="195" y="411.5">Bur</text>
<text x="127.5" y="371.3">Bench Sheko</text>
<text x="133" y="393.8">Mirab Omo</text>
<text x="156.5" y="415.2">S.Omo</text>
<text x="158.5" y="389">Bas</text>
</g>
</g>
<g>
<rect x="428.5" y="146.5" width="58" height="47" fill="#fff"/>
<path d="M433.66 184.55 A25.5 25.5 0 1 1 480.94 184.55" fill="none" stroke="#2f86e6" stroke-width="0.9"/>
<path d="M437.69 183.32 A21.3 21.3 0 1 1 476.91 183.32" fill="none" stroke="#8cc3ee" stroke-width="0.6"/>
<path d="M434.41 179.87 A23.4 23.4 0 1 1 480.19 179.87" fill="none" stroke="#1c2f7a" stroke-width="2.5" stroke-dasharray="1.6 0.8 2 0.7 1.3 0.8 2.2 0.8 1.5 2.6" stroke-opacity="0.92"/>
<path d="M434.41 179.87 A23.4 23.4 0 1 1 480.19 179.87" fill="none" stroke="#fff" stroke-width="0.5" stroke-dasharray="0.6 1.1" stroke-opacity="0.7"/>
<circle cx="449.3" cy="162.3" r="3.1" fill="#f7941d"/><circle cx="449.5" cy="162.8" r="1.9" fill="#ef3e23"/>
<path d="M445.5 165.5 Q445 163.5 448 163.6 Q449.5 161.2 453 162 Q455.5 159.8 459 161.2 Q462.5 160 464.5 162.2 Q468.5 161.8 469.5 164 Q471.5 164.6 470.6 166 Q467 167.6 461 166.8 Q455 168 450 166.8 Q446.5 167 445.5 165.5Z" fill="#1f2d6b"/>
<path d="M449 164.5 Q453 162.8 457 164 Q461 162.6 466 164.2" fill="none" stroke="#4c6fc0" stroke-width="0.6"/>
<g stroke="#16245e" stroke-width="0.55" stroke-linecap="round"><path d="M449.5 168.35000000000002 L449.35 169.25"/><path d="M452 168.75 L451.85 169.64999999999998"/><path d="M454.5 168.35000000000002 L454.35 169.25"/><path d="M457 168.95000000000002 L456.85 169.85"/><path d="M459.5 168.35000000000002 L459.35 169.25"/><path d="M462 168.75 L461.85 169.64999999999998"/><path d="M464.5 168.35000000000002 L464.35 169.25"/><path d="M466.5 168.95000000000002 L466.35 169.85"/><path d="M451 170.75 L450.85 171.64999999999998"/><path d="M454 171.15 L453.85 172.04999999999998"/><path d="M457 170.75 L456.85 171.64999999999998"/><path d="M460 171.35000000000002 L459.85 172.25"/><path d="M463 170.75 L462.85 171.64999999999998"/><path d="M453 173.15 L452.85 174.04999999999998"/><path d="M456 173.35000000000002 L455.85 174.25"/><path d="M459 172.95000000000002 L458.85 173.85"/><path d="M455.5 174.75 L455.35 175.64999999999998"/></g>
<path d="M432.8 184.6 Q434 180.5 437 179.6 Q441 178.6 444 179.8 Q448 178.4 451 176.4 Q453.8 174.6 456 176.6 Q460 179.8 464 180.4 Q470 179.6 474 180.8 Q478 181.4 481 184.6 Z" fill="#3f9b35"/>
<path d="M446 181.5 Q450 178 453.8 175.6 Q456 178.5 457 184.6 L444 184.6Z" fill="#2f7d2a"/>
<path d="M434 184.6 Q437 181 441 181.5 Q445 182.5 448 184.6Z" fill="#7cc243"/>
<path d="M464 179 Q459.5 180.2 461 181.6 Q462.5 183 455 184.6 L460.5 184.6 Q466.5 183 464 181.4 Q463 180.4 466 179.4Z" fill="#35c4ea"/>
<text x="457.2" y="187.9" text-anchor="middle" font-size="2.75" font-weight="bold" fill="#1c2f7a" textLength="43.5" lengthAdjust="spacingAndGlyphs">Ethiopian Meteorology Institute</text>
<path d="M444 189.8 L454.2 189.8 M459.8 189.8 L472 189.8" stroke="#3a5bb8" stroke-width="0.8"/>
<ellipse cx="457" cy="189.8" rx="2.7" ry="1.3" fill="#fff" stroke="#1c2f7a" stroke-width="0.45"/>
<text x="457" y="190.5" text-anchor="middle" font-size="1.9" font-weight="bold" fill="#1c2f7a">EMI</text>
</g>
<rect x="55.5" y="141" width="432.75" height="332.75" fill="none" stroke="#444" stroke-width="0.8"/>
<g stroke="#333" stroke-width="0.8">
<line x1="46.5" x2="55.5" y1="451.75" y2="451.75"/>
<line x1="46.5" x2="55.5" y1="395.55" y2="395.55"/>
<line x1="46.5" x2="55.5" y1="339.35" y2="339.35"/>
<line x1="46.5" x2="55.5" y1="283.15" y2="283.15"/>
<line x1="46.5" x2="55.5" y1="226.95" y2="226.95"/>
<line x1="46.5" x2="55.5" y1="170.75" y2="170.75"/>
<line y1="473.75" y2="483" x1="89.5" x2="89.5"/>
<line y1="473.75" y2="483" x1="145.714" x2="145.714"/>
<line y1="473.75" y2="483" x1="201.928" x2="201.928"/>
<line y1="473.75" y2="483" x1="258.142" x2="258.142"/>
<line y1="473.75" y2="483" x1="314.356" x2="314.356"/>
<line y1="473.75" y2="483" x1="370.57" x2="370.57"/>
<line y1="473.75" y2="483" x1="426.784" x2="426.784"/>
<line y1="473.75" y2="483" x1="482.998" x2="482.998"/>
</g>
<g font-size="12.7" fill="#000" stroke="#000" stroke-width="0.15">
<text x="38.5" y="456.3" text-anchor="end">4°N</text>
<text x="38.5" y="400.1" text-anchor="end">6°N</text>
<text x="38.5" y="343.9" text-anchor="end">8°N</text>
<text x="38.5" y="287.7" text-anchor="end">10°N</text>
<text x="38.5" y="231.5" text-anchor="end">12°N</text>
<text x="38.5" y="175.3" text-anchor="end">14°N</text>
<text x="89.8" y="500.9" text-anchor="middle">34°E</text>
<text x="146.014" y="500.9" text-anchor="middle">36°E</text>
<text x="202.228" y="500.9" text-anchor="middle">38°E</text>
<text x="258.442" y="500.9" text-anchor="middle">40°E</text>
<text x="314.656" y="500.9" text-anchor="middle">42°E</text>
<text x="370.87" y="500.9" text-anchor="middle">44°E</text>
<text x="427.084" y="500.9" text-anchor="middle">46°E</text>
<text x="483.298" y="500.9" text-anchor="middle">48°E</text>
</g>
<rect x="520" y="433.6" width="26" height="36" fill="#d9d9d9"/>
<rect x="520" y="397.6" width="26" height="36" fill="#ffa500"/>
<rect x="520" y="361.6" width="26" height="36" fill="#ffff00"/>
<rect x="520" y="325.6" width="26" height="36" fill="#caff70"/>
<rect x="520" y="289.6" width="26" height="36" fill="#a2cd5a"/>
<rect x="520" y="253.6" width="26" height="36" fill="#7fff00"/>
<rect x="520" y="217.6" width="26" height="36" fill="#66cd00"/>
<rect x="520" y="181.6" width="26" height="36" fill="#00ff00"/>
<rect x="520" y="145.6" width="26" height="36" fill="#228b22"/>
<line x1="520" x2="546" y1="433.6" y2="433.6" stroke="#000" stroke-opacity="0.55" stroke-width="0.6"/>
<line x1="520" x2="546" y1="397.6" y2="397.6" stroke="#000" stroke-opacity="0.55" stroke-width="0.6"/>
<line x1="520" x2="546" y1="361.6" y2="361.6" stroke="#000" stroke-opacity="0.55" stroke-width="0.6"/>
<line x1="520" x2="546" y1="325.6" y2="325.6" stroke="#000" stroke-opacity="0.55" stroke-width="0.6"/>
<line x1="520" x2="546" y1="289.6" y2="289.6" stroke="#000" stroke-opacity="0.55" stroke-width="0.6"/>
<line x1="520" x2="546" y1="253.6" y2="253.6" stroke="#000" stroke-opacity="0.55" stroke-width="0.6"/>
<line x1="520" x2="546" y1="217.6" y2="217.6" stroke="#000" stroke-opacity="0.55" stroke-width="0.6"/>
<line x1="520" x2="546" y1="181.6" y2="181.6" stroke="#000" stroke-opacity="0.55" stroke-width="0.6"/>
<rect x="520" y="145.6" width="26" height="324.0" fill="none" stroke="#555" stroke-opacity="0.8" stroke-width="0.6"/>
<g font-size="15.1" fill="#000" stroke="#000" stroke-width="0.15" text-anchor="middle">
<text x="561.6" y="439">1</text>
<text x="561.6" y="403">5</text>
<text x="561.6" y="367">10</text>
<text x="561.6" y="331">15</text>
<text x="561.6" y="295">20</text>
<text x="561.6" y="259">30</text>
<text x="561.6" y="223">40</text>
<text x="561.6" y="187">50</text>
</g>
</svg></body></html>
